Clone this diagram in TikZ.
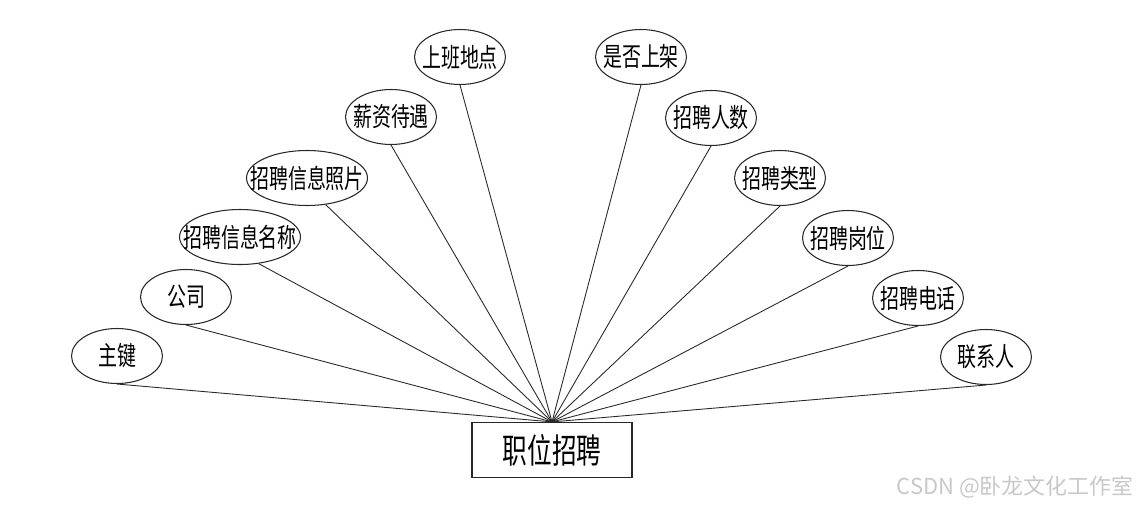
\documentclass[tikz,border=0pt]{standalone}
\usepackage{fontspec}
\usepackage{tikz}
\usetikzlibrary{shapes.geometric}
\newfontfamily\cjk[FakeStretch=0.72]{Noto Sans CJK SC}
\newfontfamily\wmfont{Noto Sans CJK SC}
\definecolor{edgegray}{RGB}{40,40,40}
\definecolor{markgray}{RGB}{200,200,200}

\begin{document}
\begin{tikzpicture}[x=0.02cm, y=-0.02cm,
  attr/.style={draw=edgegray, ellipse, line width=0.6pt, inner ysep=0pt, inner xsep=-0.12cm,
    minimum width=1.82cm, minimum height=1.1cm, font=\cjk\fontsize{15}{17}\selectfont},
  longattr/.style={attr, inner xsep=-0.29cm, minimum width=2.42cm},
  entity/.style={draw=edgegray, rectangle, line width=0.7pt, inner sep=0pt,
    minimum width=3.2cm, minimum height=1.1cm, font=\cjk\fontsize{19.5}{21}\selectfont},
  link/.style={draw=edgegray, line width=0.5pt}]
  \useasboundingbox (0,0) rectangle (1139,507);
  % entity
  \node[entity] (zp) at (552,450) {职位招聘};
  % attributes, left side
  \node[attr] (zj) at (117,356) {主键};
  \node[attr] (gs) at (186,297) {公司};
  \node[longattr] (mc) at (240,237) {招聘信息名称};
  \node[longattr] (zpian) at (307,178) {招聘信息照片};
  \node[attr] (xz) at (391,117) {薪资待遇};
  \node[attr] (dd) at (460,57) {上班地点};
  % attributes, right side
  \node[attr] (sj) at (641,57) {是否上架};
  \node[attr] (rs) at (711,118) {招聘人数};
  \node[attr] (lx) at (780,178) {招聘类型};
  \node[attr] (gw) at (848,238) {招聘岗位};
  \node[attr] (dh) at (918,298) {招聘电话};
  \node[attr] (lxr) at (986,357) {联系人};
  % connectors
  \foreach \a in {zj, gs, xz, dd, sj, rs, lx, gw, dh, lxr}
    \draw[link] (\a.south) -- (zp.north);
  \draw[link] (mc.-55) -- (zp.north);
  \draw[link] (zpian.-55) -- (zp.north);
  % watermark
  \node[text=markgray, font=\wmfont\fontsize{12.5}{14}\selectfont, anchor=east, inner sep=0pt] (wm) at (1134,487) {CSDN @卧龙文化工作室};
\end{tikzpicture}
\end{document}
